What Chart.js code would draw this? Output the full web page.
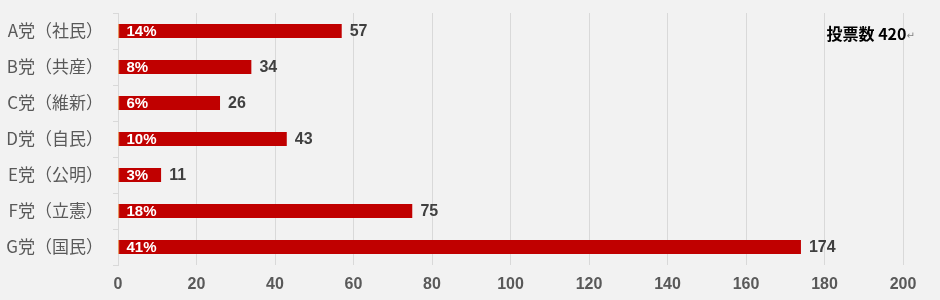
<!DOCTYPE html>
<html><head><meta charset="utf-8">
<script src="https://cdn.jsdelivr.net/npm/chart.js@4"></script>
<style>html,body{margin:0;padding:0;background:#f2f2f2;}#wrap{width:940px;height:300px;}</style>
</head><body><div id="wrap"><canvas id="c" width="940" height="300"></canvas></div>
<script>
const categories = ["A党（社民）","B党（共産）","C党（維新）","D党（自民）","E党（公明）","F党（立憲）","G党（国民）"];
const votes = [57, 34, 26, 43, 11, 75, 174];
const shares = ["14%","8%","6%","10%","3%","18%","41%"];
const xTicks = [0,20,40,60,80,100,120,140,160,180,200];
const totalLabel = "投票数 420";

const labelPlugin = {
  id: 'labels',
  afterDatasetsDraw(chart) {
    const ctx = chart.ctx;
    const meta = chart.getDatasetMeta(0);
    ctx.save();
    ctx.textBaseline = 'middle';
    meta.data.forEach((bar, i) => {
      ctx.font = 'bold 15px "Liberation Sans", Arial, sans-serif';
      ctx.fillStyle = '#ffffff';
      ctx.textAlign = 'left';
      ctx.fillText(shares[i], bar.base + 8, bar.y + 1);
      ctx.font = 'bold 16px "Liberation Sans", Arial, sans-serif';
      ctx.fillStyle = '#404040';
      ctx.fillText(String(votes[i]), bar.x + 8, bar.y + 1);
    });
    const xs = chart.scales.x;
    ctx.font = 'bold 16px "Noto Sans CJK JP", "Liberation Sans", sans-serif';
    ctx.fillStyle = '#000000';
    ctx.textAlign = 'left';
    const tx = xs.getPixelForValue(180) + 2;
    ctx.fillText(totalLabel, tx, 34);
    const w = ctx.measureText(totalLabel).width;
    ctx.font = '10px "DejaVu Sans", sans-serif';
    ctx.fillStyle = '#808080';
    ctx.fillText('↵', tx + w, 36);
    ctx.restore();
  }
};

new Chart(document.getElementById('c'), {
  type: 'bar',
  data: {
    labels: categories,
    datasets: [{
      data: votes,
      backgroundColor: '#c00000',
      borderColor: '#ed7d31',
      borderWidth: {left: 1, top: 0, right: 0, bottom: 0},
      borderSkipped: false,
      barThickness: 14
    }]
  },
  options: {
    indexAxis: 'y',
    responsive: false,
    animation: false,
    events: [],
    layout: { padding: { top: 13, right: 37, left: 0, bottom: 0 } },
    plugins: { legend: { display: false }, tooltip: { enabled: false } },
    scales: {
      x: {
        min: 0, max: 200,
        afterBuildTicks: s => { s.ticks = xTicks.map(v => ({value: v})); },
        afterFit: s => { s.height = 35; s.paddingLeft = 0; s.paddingRight = 0; },
        grid: { color: '#d9d9d9', drawTicks: false, lineWidth: 1 },
        border: { display: false },
        ticks: { color: '#595959', padding: 10, font: { family: '"Liberation Sans", Arial, sans-serif', size: 16, weight: 'bold' } }
      },
      y: {
        afterFit: s => { s.width = 118; s.paddingTop = 0; s.paddingBottom = 0; },
        grid: { color: '#d9d9d9', drawOnChartArea: false, offset: true, tickLength: 5 },
        border: { display: true, color: '#d9d9d9' },
        ticks: { color: '#595959', padding: 10, font: { family: '"Noto Sans CJK JP", sans-serif', size: 17 } }
      }
    }
  },
  plugins: [labelPlugin]
});
</script></body></html>
